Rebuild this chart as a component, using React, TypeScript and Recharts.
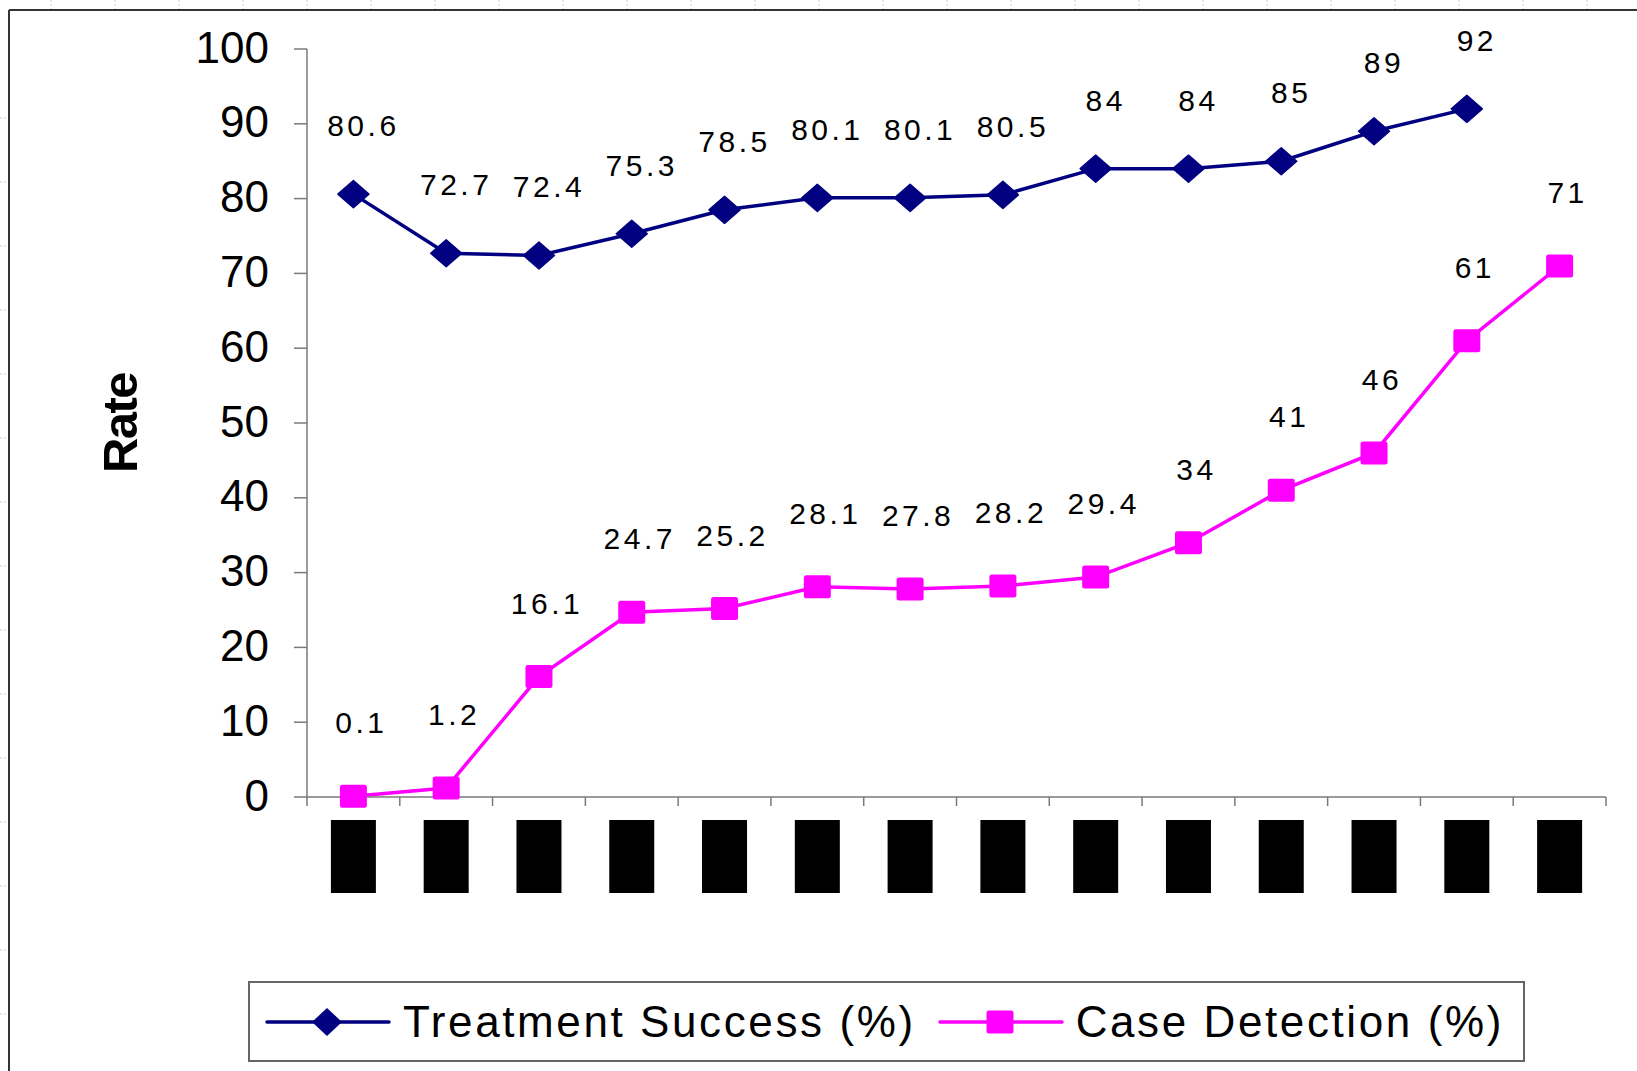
import React from 'react';
import { LineChart, Line, XAxis, YAxis, LabelList } from 'recharts';

// ---------- data ----------
const categories = ['P1', 'P2', 'P3', 'P4', 'P5', 'P6', 'P7', 'P8', 'P9', 'P10', 'P11', 'P12', 'P13', 'P14'];
const treatmentSuccess: (number | null)[] = [80.6, 72.7, 72.4, 75.3, 78.5, 80.1, 80.1, 80.5, 84, 84, 85, 89, 92, null];
const caseDetection: number[] = [0.1, 1.2, 16.1, 24.7, 25.2, 28.1, 27.8, 28.2, 29.4, 34, 41, 46, 61, 71];
const yTicks = [0, 10, 20, 30, 40, 50, 60, 70, 80, 90, 100];
const seriesNames = ['Treatment Success (%)', 'Case Detection (%)'];

const data = categories.map((c, i) => ({
  cat: c,
  ts: treatmentSuccess[i],
  cd: caseDetection[i],
}));

// ---------- layout ----------
const W = 1637;
const H = 1071;
const PLOT_LEFT = 307;
const PLOT_RIGHT = 1606;
const PLOT_TOP = 49;
const PLOT_BOTTOM = 797;
const XAXIS_H = 120;
const BAND = (PLOT_RIGHT - PLOT_LEFT) / categories.length;
const FONT = "'Liberation Sans', Arial, Helvetica, sans-serif";
const NAVY = '#000080';
const MAGENTA = '#FF00FF';
const AXIS = '#7a7a7a';

const CatTick = (props: any) => {
  const { x, y, index, payload } = props;
  const half = BAND / 2;
  return (
    <g>
      <line x1={x - half} x2={x - half} y1={y} y2={y + 9} stroke={AXIS} strokeWidth={1.5} />
      {index === categories.length - 1 && (
        <line x1={x + half} x2={x + half} y1={y} y2={y + 9} stroke={AXIS} strokeWidth={1.5} />
      )}
      <rect x={x - 22.5} y={y + 23} width={45} height={73} fill="#000" />
      <text x={x} y={y + 65} textAnchor="middle" fontSize={14} fill="#000" fontFamily={FONT}>
        {payload.value}
      </text>
    </g>
  );
};

const Diamond = (props: any) => {
  const { cx, cy, index } = props;
  if (cx == null || cy == null || props.value == null) return <g key={`d${index}`} />;
  const hw = 15.5;
  const hh = 13.5;
  return (
    <polygon
      key={`d${index}`}
      points={`${cx},${cy - hh} ${cx + hw},${cy} ${cx},${cy + hh} ${cx - hw},${cy}`}
      fill={NAVY}
      stroke={NAVY}
      strokeWidth={1.5}
      strokeLinejoin="round"
    />
  );
};

const Square = (props: any) => {
  const { cx, cy, index } = props;
  if (cx == null || cy == null) return <g key={`s${index}`} />;
  return <rect key={`s${index}`} x={cx - 13.5} y={cy - 11.5} width={27} height={23} rx={2.5} fill={MAGENTA} />;
};

const makeLabel = (dx: number, dy: number) => (p: any) => {
  if (p.value == null) return null;
  return (
    <text
      x={p.x + dx}
      y={p.y - dy}
      textAnchor="middle"
      fontSize={30}
      letterSpacing={3.5}
      fill="#000"
      fontFamily={FONT}
    >
      {String(p.value)}
    </text>
  );
};

const RateLabel = (props: any) => {
  const vb = props.viewBox || { y: PLOT_TOP, height: PLOT_BOTTOM - PLOT_TOP };
  const cy = vb.y + vb.height / 2;
  const bx = 137;
  return (
    <text
      x={bx}
      y={cy}
      transform={`rotate(-90, ${bx}, ${cy})`}
      textAnchor="middle"
      fontSize={49}
      fontWeight="bold"
      letterSpacing={-1.5}
      fill="#000"
      fontFamily={FONT}
    >
      Rate
    </text>
  );
};

const LegendIcon = ({ kind, color }: { kind: 'diamond' | 'square'; color: string }) => (
  <svg width={126} height={32} style={{ display: 'block' }}>
    <line x1={2} x2={124} y1={16} y2={16} stroke={color} strokeWidth={3.5} strokeLinecap="round" />
    {kind === 'diamond' ? (
      <polygon points="62,2 77,16 62,30 47,16" fill={color} />
    ) : (
      <rect x={48.5} y={4.5} width={27} height={23} rx={2.5} fill={color} />
    )}
  </svg>
);

export default function App() {
  return (
    <div
      style={{
        position: 'absolute',
        left: 0,
        top: 0,
        width: W,
        height: H,
        overflow: 'hidden',
        background: '#fff',
        fontFamily: FONT,
      }}
    >
      {/* spreadsheet cell marks and chart frame */}
      <svg width={W} height={H} style={{ position: 'absolute', left: 0, top: 0 }}>
        {Array.from({ length: 26 }, (_, k) => (
          <line key={`v${k}`} x1={51 + 64 * k} x2={51 + 64 * k} y1={0} y2={9} stroke="#d0d0d0" strokeDasharray="2 2" />
        ))}
        {Array.from({ length: 16 }, (_, k) => (
          <line key={`h${k}`} x1={0} x2={8} y1={118 + 64 * k} y2={118 + 64 * k} stroke="#d0d0d0" strokeDasharray="2 2" />
        ))}
        <line x1={9} x2={W} y1={10} y2={10} stroke="#333" strokeWidth={2} />
        <line x1={9} x2={9} y1={10} y2={H} stroke="#333" strokeWidth={2} />
      </svg>

      <div style={{ position: 'absolute', left: 0, top: 0 }}>
        <LineChart
          width={W}
          height={H}
          data={data}
          margin={{ top: PLOT_TOP, right: W - PLOT_RIGHT, left: 0, bottom: H - PLOT_BOTTOM - XAXIS_H }}
        >
          <XAxis
            dataKey="cat"
            type="category"
            height={XAXIS_H}
            padding={{ left: BAND / 2, right: BAND / 2 }}
            interval={0}
            tickLine={false}
            tickSize={0}
            tickMargin={0}
            axisLine={{ stroke: AXIS, strokeWidth: 1.5 }}
            tick={<CatTick />}
          />
          <YAxis
            type="number"
            domain={[0, 100]}
            ticks={yTicks}
            interval={0}
            width={PLOT_LEFT}
            tickSize={13}
            tickMargin={25}
            axisLine={{ stroke: AXIS, strokeWidth: 1.5 }}
            tickLine={{ stroke: AXIS, strokeWidth: 1.5 }}
            tick={{ fontSize: 44, fill: '#000', fontFamily: FONT, dy: -2 }}
            label={<RateLabel />}
          />
          <Line
            dataKey="ts"
            name={seriesNames[0]}
            stroke={NAVY}
            strokeWidth={3.5}
            dot={(p: any) => <Diamond {...p} />}
            activeDot={false}
            connectNulls={false}
            isAnimationActive={false}
          >
            <LabelList dataKey="ts" content={makeLabel(10, 58)} />
          </Line>
          <Line
            dataKey="cd"
            name={seriesNames[1]}
            stroke={MAGENTA}
            strokeWidth={3.5}
            dot={(p: any) => <Square {...p} />}
            activeDot={false}
            isAnimationActive={false}
          >
            <LabelList dataKey="cd" content={makeLabel(8, 63)} />
          </Line>
        </LineChart>
      </div>

      {/* legend */}
      <div
        style={{
          position: 'absolute',
          left: 248,
          top: 981,
          width: 1277,
          height: 81,
          boxSizing: 'border-box',
          border: '2px solid #666',
          display: 'flex',
          alignItems: 'center',
          paddingLeft: 15,
          fontSize: 44,
          letterSpacing: 2.6,
          color: '#000',
          whiteSpace: 'nowrap',
        }}
      >
        <LegendIcon kind="diamond" color={NAVY} />
        <span style={{ marginLeft: 12 }}>{seriesNames[0]}</span>
        <div style={{ marginLeft: 22 }}>
          <LegendIcon kind="square" color={MAGENTA} />
        </div>
        <span style={{ marginLeft: 12 }}>{seriesNames[1]}</span>
      </div>
    </div>
  );
}
